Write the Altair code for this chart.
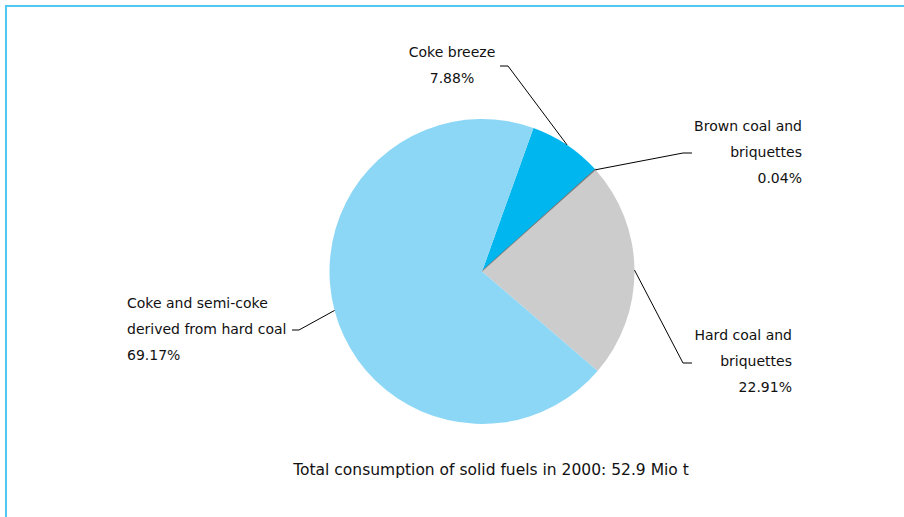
import math
import altair as alt
import pandas as pd

# ---- data ----
categories = ["Coke breeze", "Brown coal and briquettes", "Hard coal and briquettes",
              "Coke and semi-coke derived from hard coal"]
shares = [7.88, 0.04, 22.91, 69.17]
label_lines = [["Coke breeze", "7.88%"],
               ["Brown coal and", "briquettes", "0.04%"],
               ["Hard coal and", "briquettes", "22.91%"],
               ["Coke and semi-coke", "derived from hard coal", "69.17%"]]
title_text = "Total consumption of solid fuels in 2000: 52.9 Mio t"

# ---- styles / layout ----
fills = ["#00B6EE", "#7A7A7A", "#CCCCCC", "#8DD7F6"]
strokes = ["#00B6EE", "#7A7A7A", "#CCCCCC", "#8DD7F6"]
stroke_w = [0, 1.5, 0, 0]
W, H = 904, 517
CX, CY, R = 482, 271.5, 152.5
START = 0.344  # radians, clockwise from 12 o'clock
FONT = "DejaVu Sans"

# label anchor positions (x, first-line y, align) and leader elbows
label_pos = [(452, 53, "center"), (802, 127, "right"), (792, 336, "right"), (127, 304, "left")]
elbows = [[(508, 66), (500, 66)],
          [(683, 153), (692, 153)],
          [(683, 363), (692, 363)],
          [(299, 330), (292, 330)]]
LINE_H = 26

# ---- build tables ----
pie_df = pd.DataFrame({"cat": categories, "value": shares, "order": range(len(shares)),
                       "fill": fills, "stroke": strokes, "sw": stroke_w})

total = sum(shares)
cum = 0.0
line_rows = []
text_rows = []
for i, v in enumerate(shares):
    mid = START + 2 * math.pi * (cum + v / 2) / total
    cum += v
    ax, ay = CX + R * math.sin(mid), CY - R * math.cos(mid)
    pts = [(ax, ay)] + elbows[i]
    for k, (px, py) in enumerate(pts):
        line_rows.append({"id": i, "k": k, "x": px, "y": py})
    lx, ly, al = label_pos[i]
    for j, t in enumerate(label_lines[i]):
        text_rows.append({"id": i, "x": lx, "y": ly + j * LINE_H, "t": t, "align": al})

lines_df = pd.DataFrame(line_rows)
text_df = pd.DataFrame(text_rows)

xs = alt.Scale(domain=[0, W], range=[0, W])
ys = alt.Scale(domain=[0, H], range=[0, H])

pie = alt.Chart(pie_df).mark_arc(radius=R).encode(
    theta=alt.Theta("value:Q", stack=True,
                    scale=alt.Scale(range=[START, START + 2 * math.pi])),
    order=alt.Order("order:Q"),
    color=alt.Color("fill:N", scale=None),
    stroke=alt.Stroke("stroke:N", scale=None),
    strokeWidth=alt.StrokeWidth("sw:Q", scale=None),
    x=alt.value(CX), y=alt.value(CY),
)

leaders = alt.Chart(lines_df).mark_line(color="#000000", strokeWidth=1).encode(
    x=alt.X("x:Q", scale=xs, axis=None),
    y=alt.Y("y:Q", scale=ys, axis=None),
    detail="id:N",
    order="k:Q",
)

texts = []
for al in ["left", "center", "right"]:
    sub = text_df[text_df["align"] == al]
    texts.append(alt.Chart(sub).mark_text(align=al, baseline="middle", font=FONT,
                                          fontSize=14, color="#111111").encode(
        x=alt.X("x:Q", scale=xs, axis=None),
        y=alt.Y("y:Q", scale=ys, axis=None),
        text="t:N",
    ))

title = alt.Chart(pd.DataFrame({"t": [title_text]})).mark_text(
    align="center", baseline="middle", font=FONT, fontSize=15.5, color="#111111"
).encode(x=alt.value(491), y=alt.value(470), text="t:N")

frame_top = alt.Chart(pd.DataFrame({"a": [0]})).mark_rule(color="#4FC8F2", strokeWidth=2).encode(
    x=alt.value(5), x2=alt.value(W), y=alt.value(6))
frame_left = alt.Chart(pd.DataFrame({"a": [0]})).mark_rule(color="#4FC8F2", strokeWidth=2).encode(
    x=alt.value(6), y=alt.value(5), y2=alt.value(H))

chart = alt.layer(frame_top, frame_left, pie, leaders, *texts, title).properties(
    width=W, height=H, autosize=alt.AutoSizeParams(type="none"), padding=0,
    background="#FFFFFF",
).configure_view(stroke=None)

chart.save("out.html", embed_options={"renderer": "svg", "actions": False})
